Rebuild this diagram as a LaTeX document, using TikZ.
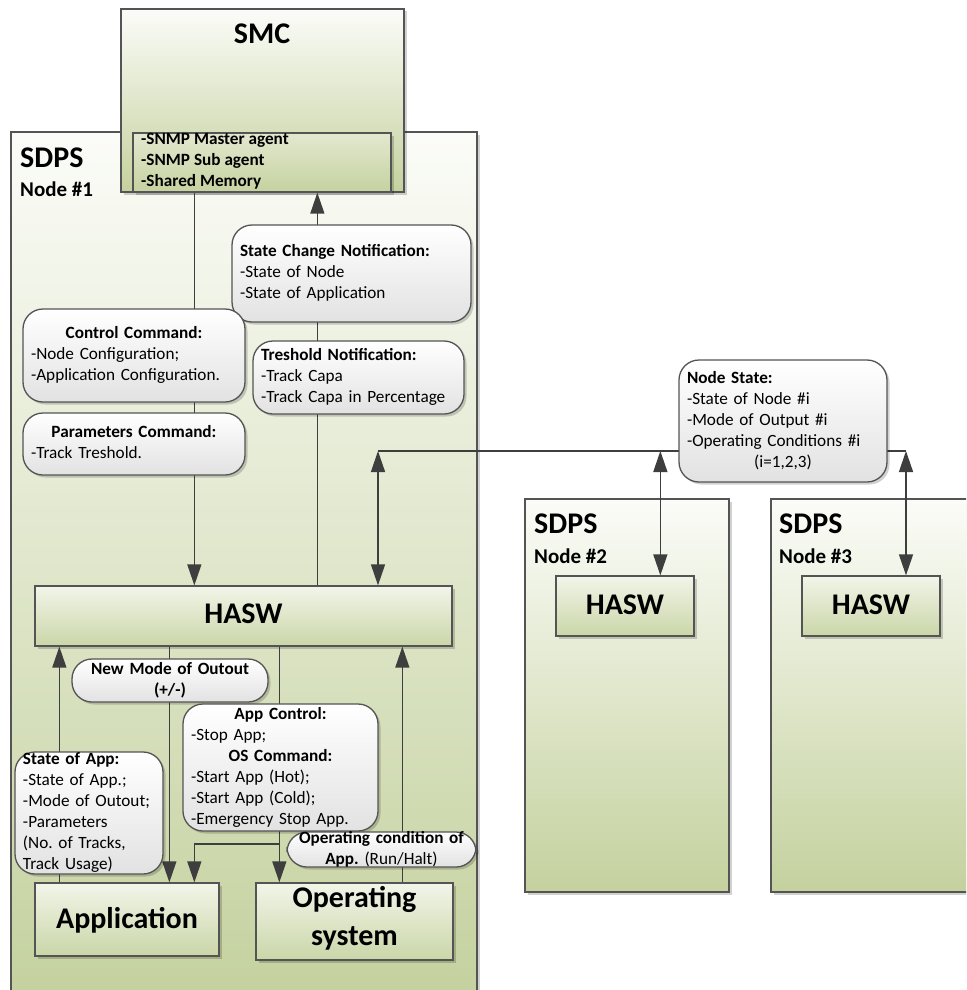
\documentclass[tikz,border=0pt]{standalone}
\usepackage{fontspec}
\setmainfont{Carlito}
\usetikzlibrary{arrows.meta,shadows,calc}

\definecolor{linec}{RGB}{62,62,62}
\definecolor{edge}{RGB}{84,84,84}
\definecolor{leaf}{RGB}{196,209,158}
\definecolor{leafpale}{RGB}{251,252,248}
\definecolor{haswtop}{RGB}{242,245,233}
\definecolor{haswbot}{RGB}{202,214,168}
\definecolor{agenttop}{RGB}{226,232,207}
\definecolor{agentbot}{RGB}{198,210,160}
\definecolor{bubbot}{RGB}{226,226,226}

\frenchspacing
\newcommand\bt{\fontsize{17.2}{21}\selectfont}
\newcommand\ctr[1]{\makebox[\linewidth][c]{#1}}
% bubble: name, x, y, width, height, text width, text
\newcommand\bub[7]{%
  \node[bubble, minimum width=#4pt, minimum height=#5pt] (#1) at (#2,#3) {};
  \node[btext, text width=#6pt] (#1-txt) at (#1.center) {#7};}

\tikzset{
  shade/.style={drop shadow={shadow xshift=2.5pt, shadow yshift=-2.5pt, opacity=0.18, fill=black}},
  box/.style={rectangle, draw=edge, line width=1.3pt, inner sep=0pt, shade},
  panel/.style={box, top color=leafpale, bottom color=leaf},
  hasw/.style={box, top color=haswtop, bottom color=haswbot},
  bubble/.style={rectangle, draw=edge, line width=1.3pt, rounded corners=20pt,
    top color=white, bottom color=bubbot, inner sep=0pt, shade},
  btext/.style={font=\bt, align=left, inner sep=0pt,
    execute at begin node=\strut, execute at end node=\strut},
  big/.style={font=\fontsize{30}{38}\selectfont\bfseries, inner sep=0pt},
  mid/.style={font=\fontsize{21}{25}\selectfont\bfseries, inner sep=0pt},
  plain/.style={draw=linec, line width=1.4pt},
  arr/.style={plain, -{Triangle[width=14pt,length=21pt]}},
  dbl/.style={plain, {Triangle[width=14pt,length=21pt]}-{Triangle[width=14pt,length=21pt]}}
}

\begin{document}
\begin{tikzpicture}[x=1pt,y=-1pt]
\useasboundingbox (0,0) rectangle (966,990);
\clip (0,0) rectangle (966,990);

% node panels
\node[panel, minimum width=466pt, minimum height=868pt] (sdps1) at (244,566) {};
\node[panel, minimum width=204pt, minimum height=393pt] (sdps2) at (627,695.5) {};
\node[panel, minimum width=209pt, minimum height=393pt] (sdps3) at (875.5,695.5) {};

% SMC with its agent block
\node[panel, minimum width=283pt, minimum height=183pt] (smc) at (262.5,100.5) {};
\node[box, top color=agenttop, bottom color=agentbot,
  minimum width=258pt, minimum height=59pt] (agents) at (262,162.5) {};
\node[big, anchor=base] (smc-t) at (262,44) {SMC};
\node[btext, font=\bt\bfseries, anchor=west] (agents-t) at (141,162.8)
  {-SNMP Master agent\\-SNMP Sub agent\\-Shared Memory};

% panel titles
\node[big, anchor=base west] (sdps1-t) at (20,167) {SDPS};
\node[mid, anchor=base west] (sdps1-n) at (20,196) {Node \#1};
\node[big, anchor=base west] (sdps2-t) at (534,533) {SDPS};
\node[mid, anchor=base west] (sdps2-n) at (534,563) {Node \#2};
\node[big, anchor=base west] (sdps3-t) at (779,533) {SDPS};
\node[mid, anchor=base west] (sdps3-n) at (779,563) {Node \#3};

% HASW blocks
\node[hasw, minimum width=417pt, minimum height=60pt] (hasw1) at (243.5,616) {};
\node[big, anchor=base] (hasw1-t) at (243.5,623) {HASW};
\node[hasw, minimum width=138pt, minimum height=60pt] (hasw2) at (625,606) {};
\node[big, anchor=base] (hasw2-t) at (625,614) {HASW};
\node[hasw, minimum width=138pt, minimum height=60pt] (hasw3) at (871,606) {};
\node[big, anchor=base] (hasw3-t) at (871,614) {HASW};

% application and operating system
\node[hasw, minimum width=184pt, minimum height=73pt] (app) at (127,919.5) {};
\node[big, anchor=base] (app-t) at (127,928) {Application};
\node[hasw, minimum width=197pt, minimum height=77pt] (os) at (354.5,921.5) {};
\node[big, align=center, execute at begin node=\strut, execute at end node=\strut]
  (os-t) at (354.5,921.4) {Operating\\system};

% SMC <-> HASW
\draw[arr] ([xshift=74pt]smc.south west) -- ([xshift=74pt]smc.south west |- hasw1.north);
\draw[arr] ([xshift=197pt]smc.south west |- hasw1.north) -- ([xshift=197pt]smc.south west);

% node state bus
\coordinate (busL) at (378,451);
\coordinate (busR) at (906,451);
\draw[plain] (busL) -- (busR);
\draw[dbl] (busL) -- (busL |- hasw1.north);
\draw[dbl] ([xshift=105pt]hasw2.north west |- busL) -- ([xshift=105pt]hasw2.north west);
\draw[dbl] (busR) -- (busR |- hasw3.north);

% HASW <-> application / operating system
\draw[arr] ([xshift=25pt]app.north west) -- ([xshift=25pt]app.north west |- hasw1.south);
\draw[arr] ([xshift=135pt]app.north west |- hasw1.south) -- ([xshift=135pt]app.north west);
\draw[arr] ([xshift=24pt]os.north west |- hasw1.south) -- ([xshift=24pt]os.north west);
\coordinate (split) at (280,844);
\draw[arr] (split) -| ([xshift=160pt]app.north west);
\draw[arr] ([xshift=147pt]os.north west) -- ([xshift=147pt]os.north west |- hasw1.south);

% message bubbles
\bub{statechg}{351.5}{273.5}{239}{97}{223}{\textbf{State Change Notification:}\\-State of Node\\-State of Application}
\bub{ctrl}{134}{355.5}{222}{93}{206}{\ctr{\textbf{Control Command:}}\\-Node Configuration;\\-Application Configuration.}
\bub{thresh}{358.5}{377.5}{211}{73}{195}{\textbf{Treshold Notification:}\\-Track Capa\\-Track Capa in Percentage}
\bub{params}{134}{444}{222}{62}{206}{\ctr{\textbf{Parameters Command:}}\\-Track Treshold.}
\bub{nodestate}{783}{421}{208}{122}{192}{\textbf{Node State:}\\-State of Node \#i\\-Mode of Output \#i\\-Operating Conditions \#i\\\ctr{(i=1,2,3)}}
\bub{newmode}{170}{680.5}{196}{43}{180}{\ctr{\textbf{New Mode of Outout}}\\\ctr{\textbf{(+/-)}}}
\bub{appctrl}{280.5}{767.5}{195}{127}{179}{\ctr{\textbf{App Control:}}\\-Stop App;\\\ctr{\textbf{OS Command:}}\\-Start App (Hot);\\-Start App (Cold);\\-Emergency Stop App.}
\bub{stateapp}{89}{813}{148}{122}{132}{\textbf{State of App:}\\-State of App.;\\-Mode of Outout;\\-Parameters\\(No. of Tracks,\\Track Usage)}
\bub{opcond}{381.5}{849.5}{189}{35}{173}{\ctr{\textbf{Operating condition of}}\\\ctr{\textbf{App.} (Run/Halt)}}
\end{tikzpicture}
\end{document}
